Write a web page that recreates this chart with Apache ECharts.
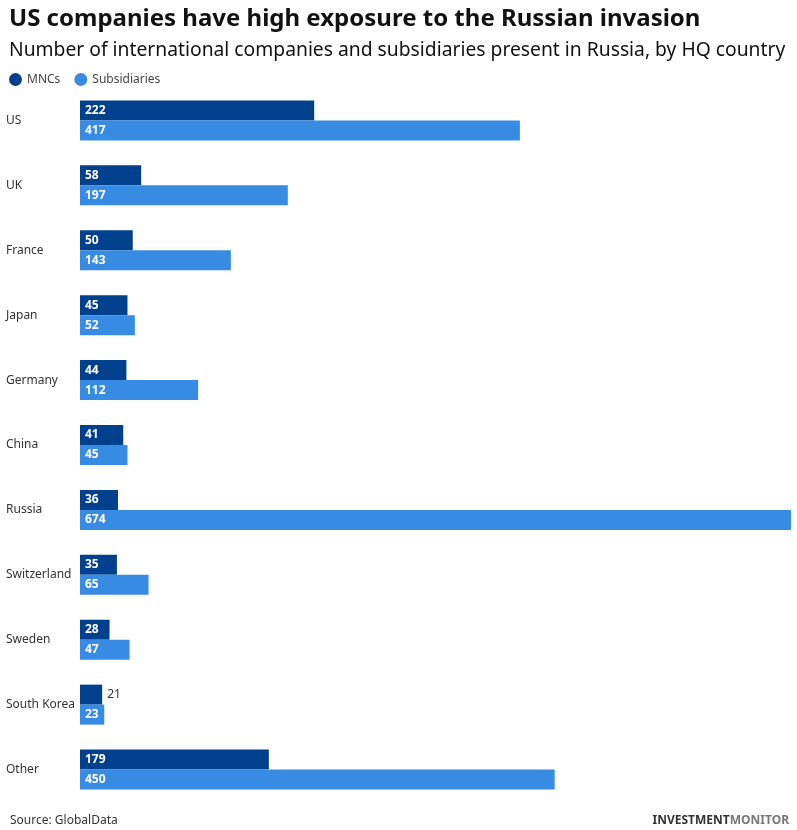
<!DOCTYPE html>
<html><head><meta charset="utf-8">
<script src="https://cdn.jsdelivr.net/npm/echarts@6/dist/echarts.min.js"></script>
<style>html,body{margin:0;padding:0;background:#fff}#c{width:797px;height:830px}</style>
</head><body><div id="c"></div>
<script>
const categories = ["US","UK","France","Japan","Germany","China","Russia","Switzerland","Sweden","South Korea","Other"];
const mncs = [222,58,50,45,44,41,36,35,28,21,179];
const subsidiaries = [417,197,143,52,112,45,674,65,47,23,450];
const seriesNames = ["MNCs","Subsidiaries"];

const FONT = "Noto Sans";
const chart = echarts.init(document.getElementById('c'), null, {renderer:'canvas'});
function mk(vals){
  return vals.map(v => v < 25 && vals === mncs ? {value:v, label:{position:'right', color:'#333', fontWeight:'normal'}} : v);
}
chart.setOption({
  animation:false,
  textStyle:{fontFamily:FONT},
  title:[
    {text:"US companies have high exposure to the Russian invasion", left:4, top:2,
     textStyle:{fontFamily:FONT, fontSize:24, fontWeight:'bold', color:'#111'}},
    {text:"Number of international companies and subsidiaries present in Russia, by HQ country", left:4, top:36,
     textStyle:{fontFamily:FONT, fontSize:19.3, fontWeight:'normal', color:'#111'}},
    {text:"Source: GlobalData", left:5, top:810, textStyle:{fontFamily:FONT, fontSize:12, fontWeight:'normal', color:'#333'}},
    {text:"{a|INVESTMENT}{b|MONITOR}", right:3, top:810,
     textStyle:{rich:{a:{fontFamily:FONT, fontSize:12, fontWeight:'bold', color:'#333'}, b:{fontFamily:FONT, fontSize:12, color:'#777'}}}}
  ],
  legend:{left:4, top:68, icon:'circle', itemWidth:13, itemHeight:13, itemGap:14,
    textStyle:{fontFamily:FONT, fontSize:12, color:'#444'}, data:seriesNames},
  grid:{left:80, right:6, top:88, bottom:28},
  xAxis:{type:'value', min:0, max:674, show:false},
  yAxis:{type:'category', data:categories, inverse:true,
    axisLine:{show:false}, axisTick:{show:false},
    axisLabel:{align:'left', margin:74, fontFamily:FONT, fontSize:12, color:'#333'}},
  series:[
    {name:seriesNames[0], type:'bar', data:mk(mncs), barWidth:20, barGap:'0%', itemStyle:{color:'#00408c'},
     label:{show:true, position:'insideLeft', color:'#fff', fontWeight:'bold', fontSize:12, fontFamily:FONT, distance:5}},
    {name:seriesNames[1], type:'bar', data:subsidiaries, barWidth:20, itemStyle:{color:'#388be3'},
     label:{show:true, position:'insideLeft', color:'#fff', fontWeight:'bold', fontSize:12, fontFamily:FONT, distance:5}}
  ]
});
</script></body></html>
